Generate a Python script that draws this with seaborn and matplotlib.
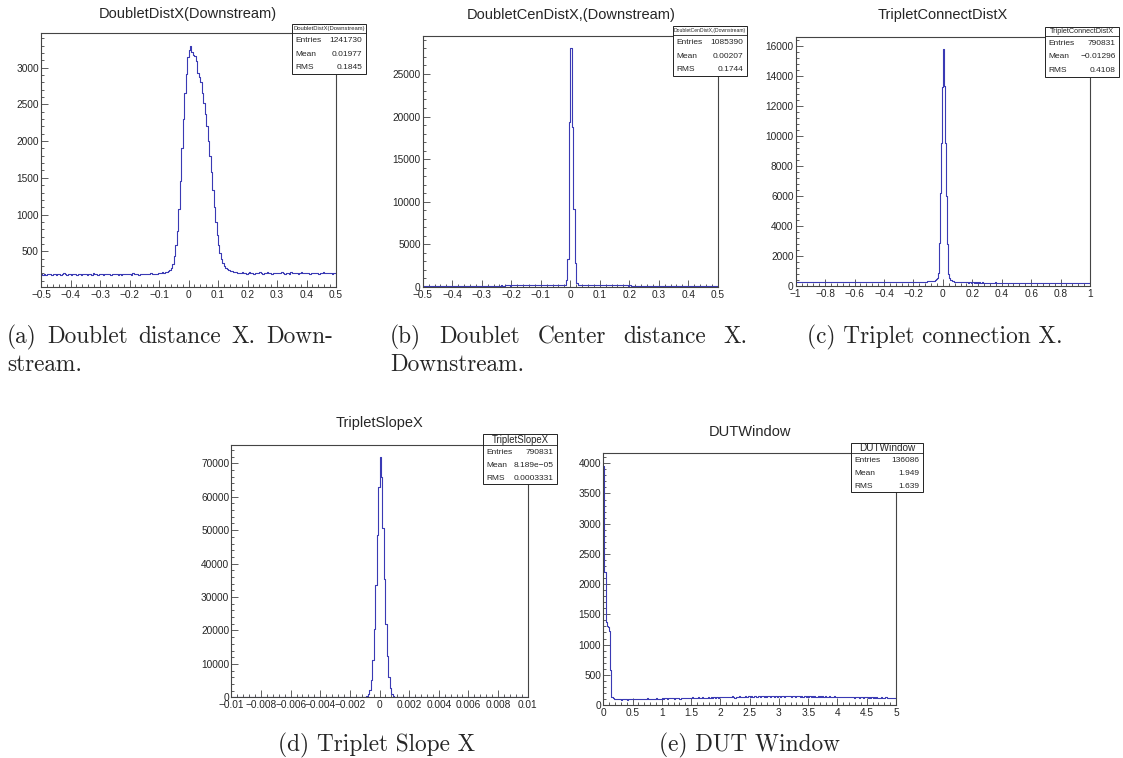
import numpy as np
import pandas as pd
import matplotlib
matplotlib.use("Agg")
import matplotlib.pyplot as plt
import seaborn as sns
from matplotlib.patches import Rectangle
from matplotlib.lines import Line2D
from matplotlib.ticker import MultipleLocator, FuncFormatter

sns.set_style("ticks")
plt.rcParams['font.family'] = ['Liberation Sans', 'DejaVu Sans']

W, H = 1123, 758

# ---- bin counts ----
# (a) DoubletDistX, 200 bins on [-0.5, 0.5]
a_left = [188, 182, 191, 179, 186, 195, 183, 177, 190, 186,
          181, 193, 187, 176, 184, 197, 189, 180, 185, 192,
          178, 186, 194, 183, 175, 188, 190, 181, 196, 184,
          187, 179, 191, 186, 182, 199, 185, 188, 180, 193,
          184, 190, 177, 186, 195, 183, 189, 181, 192, 187,
          185, 196, 182, 188, 179, 191, 186, 194, 183, 190,
          188, 181, 197, 185, 192, 186, 180, 193, 189, 184,
          196, 187, 191, 185, 199, 190, 188, 195, 192, 200]
a_peak = [205, 198, 210, 204, 214, 212, 226, 242, 272, 330,
          430, 580, 780, 1080, 1450, 1900, 2300, 2650, 2920, 3150,
          3240, 3290, 3210, 3180, 3160, 3090, 2930, 2880, 2800, 2650,
          2520, 2370, 2200, 2000, 1800, 1580, 1340, 1100, 900, 720,
          580, 470, 390, 335, 300, 272, 255, 242, 232, 225]
a_right = [218, 210, 214, 205, 209, 198, 212, 203, 207, 196,
           204, 211, 199, 206, 193, 208, 202, 197, 210, 201,
           195, 207, 203, 212, 198, 205, 191, 204, 209, 200,
           197, 206, 202, 213, 199, 194, 208, 203, 196, 210,
           201, 205, 198, 207, 192, 204, 211, 199, 203, 197,
           208, 200, 195, 206, 202, 209, 198, 204, 193, 207,
           201, 210, 197, 205, 199, 203, 208, 196, 204, 202]

# (b) DoubletCenDistX, 200 bins on [-0.5, 0.5]
b_left = [128, 135, 122, 140, 131, 126, 138, 133, 119, 142,
          130, 125, 137, 129, 144, 132, 121, 136, 127, 139,
          134, 141, 128, 146, 133, 137, 130, 149, 138, 143,
          135, 151, 140, 145, 137, 153, 142, 148, 139, 156,
          147, 151, 143, 158, 150, 146, 162, 154, 149, 165,
          168, 172, 165, 179, 174, 170, 183, 177, 181, 175,
          186, 180, 189, 184, 178, 192, 187, 183, 195, 190,
          186, 198, 193, 189, 201, 196, 192, 204, 199, 195,
          207, 202, 198, 210, 205, 212, 208, 215, 211, 219,
          216, 224, 221, 232, 240, 252]
b_peak = [290, 800, 3300, 19400, 28000, 18800, 9100, 2800, 520, 260]
b_right = [236, 228, 221, 217, 213, 209, 214, 206, 210, 203,
           207, 200, 204, 198, 202, 195, 199, 193, 197, 190,
           194, 188, 192, 185, 189, 183, 187, 180, 184, 178,
           182, 176, 179, 173, 177, 171, 175, 169, 172, 166,
           170, 164, 167, 161, 165, 158, 162, 156, 160, 153,
           157, 151, 155, 149, 152, 147, 150, 144, 148, 142,
           146, 140, 143, 138, 141, 136, 139, 133, 137, 131,
           135, 129, 133, 127, 131, 125, 129, 124, 127, 122,
           126, 121, 124, 119, 123, 118, 121, 117, 120, 116,
           119, 115, 118, 114]

# (c) TripletConnectDistX, 300 bins on [-1, 1]
c_left = [262, 248, 255, 241, 259, 250, 266, 244, 253, 258,
          247, 261, 252, 243, 257, 249, 264, 251, 240, 256,
          253, 245, 260, 248, 255, 263, 246, 252, 258, 242,
          257, 250, 265, 247, 254, 249, 261, 244, 256, 252,
          246, 259, 251, 262, 248, 255, 243, 258, 250, 264,
          249, 254, 241, 257, 252, 260, 247, 255, 263, 250,
          245, 258, 253, 248, 261, 251, 256, 244, 259, 254,
          250, 262, 247, 255, 252, 258, 246, 260, 253, 249,
          257, 251, 264, 248, 255, 261, 250, 256, 245, 259,
          253, 266, 251, 258, 262, 249, 255, 260, 252, 257,
          263, 254, 259, 251, 265, 257, 261, 256, 268, 259,
          262, 258, 266, 261, 270, 263, 267, 272, 265, 271,
          268, 274, 270, 277, 273, 280, 276, 283, 279, 286,
          284, 290, 288, 295, 300, 306, 312, 320, 330, 345,
          300, 330, 380, 450, 560]
c_peak = [845, 2840, 6170, 9500, 13270, 15760, 13300, 9500, 6000, 2800, 800]
c_right = [520, 430, 370, 330, 305, 290, 278, 270, 262, 257,
           251, 246, 253, 240, 247, 236, 243, 249, 235, 241,
           232, 245, 238, 229, 242, 234, 227, 240, 231, 236,
           225, 238, 230, 222, 235, 228, 220, 233, 226, 231,
           219, 232, 224, 229, 216, 228, 221, 234, 218, 226,
           222, 214, 230, 219, 225, 211, 223, 217, 228, 213,
           220, 226, 212, 219, 224, 209, 221, 215, 227, 210,
           217, 223, 208, 218, 212, 225, 206, 219, 214, 221,
           205, 216, 211, 222, 203, 215, 209, 220, 202, 213,
           218, 207, 212, 200, 216, 209, 204, 214, 198, 211,
           206, 215, 201, 210, 196, 208, 213, 199, 205, 211,
           194, 207, 202, 212, 197, 204, 209, 193, 206, 200,
           210, 195, 203, 198, 208, 191, 204, 199, 206, 196,
           201, 209, 192, 203, 197, 205, 190, 202, 198, 207,
           194, 201, 196, 203]

# (d) TripletSlopeX, 200 bins on [-0.01, 0.01]
d_left = [0, 1, 0, 0, 2, 0, 1, 0, 0, 1,
          0, 0, 1, 0, 2, 0, 0, 1, 0, 1,
          1, 0, 0, 2, 1, 0, 1, 0, 2, 0,
          1, 2, 0, 1, 0, 2, 1, 1, 0, 2,
          1, 0, 2, 1, 3, 1, 0, 2, 1, 3,
          2, 1, 3, 2, 1, 4, 2, 3, 1, 4,
          3, 2, 5, 3, 4, 6, 3, 5, 7, 6,
          8, 7, 10, 9, 12, 14, 13, 17, 19, 22,
          26, 30, 35, 41, 48, 57, 68, 80, 95, 112]
d_peak = [120, 320, 850, 2300, 5300, 11200, 20500, 33500, 48500, 63000,
          72000, 66000, 50500, 35500, 22000, 12300, 6000, 2700, 1050, 380, 140]
d_right = [65, 52, 43, 36, 30, 26, 22, 19, 16, 14,
           12, 11, 9, 8, 8, 6, 7, 5, 5, 4,
           4, 3, 4, 2, 3, 3, 2, 1, 2, 2,
           1, 2, 1, 0, 1, 2, 0, 1, 1, 0,
           1, 0, 1, 0, 0, 1, 0, 2, 0, 1,
           0, 0, 1, 0, 1, 0, 0, 1, 0, 0,
           1, 0, 0, 0, 1, 0, 0, 1, 0, 0,
           0, 1, 0, 0, 0, 1, 0, 0, 0, 1,
           0, 0, 1, 0, 0, 0, 0, 1, 0]

# (e) DUTWindow, 250 bins on [0, 5]
e_head = [3950, 2200, 1380, 1300, 1290, 1230, 580, 140]
e_tail = [112, 104, 98, 95, 101, 93, 97, 90, 99, 94,
          102, 96, 91, 100, 95, 103, 97, 92, 99, 105,
          96, 101, 94, 98, 106, 100, 95, 103, 99, 108,
          97, 104, 101, 95, 107, 102, 99, 110, 103, 98,
          106, 104,
          112, 106, 115, 109, 103, 117, 111, 108, 114, 120,
          107, 113, 118, 110, 116, 105, 121, 114, 119, 111,
          117, 123, 113, 108, 120, 116, 125, 118, 112, 122,
          119, 126, 115, 121, 128, 117, 124, 120, 114, 127,
          122, 118, 129, 124, 131, 120, 126, 133, 123, 128,
          130, 125, 134, 128, 137, 132, 126, 139, 133, 129,
          141, 135, 122, 131, 138, 134, 143, 128, 136, 140,
          133, 145, 138, 131, 142, 136, 147, 140, 134, 143,
          138, 132, 146, 141, 137, 148, 142, 135, 144, 139,
          150, 143, 137, 146, 141, 149, 138, 145, 140, 152,
          144, 139, 147, 142, 136, 148, 143, 150, 141, 146,
          139, 145, 151, 142, 138, 147, 143, 149, 140, 144,
          137, 146, 141, 135, 143,
          140, 146, 138, 143, 136, 145, 139, 134, 142, 137,
          148, 135, 141, 138, 144, 132, 140, 136, 143, 131,
          139, 134, 142, 129, 137, 133, 140, 128, 135, 131,
          138, 126, 134, 130, 136, 125, 133, 129, 135, 124,
          131, 127, 134, 122, 130, 126, 132, 121, 128, 125,
          130, 119, 127, 123, 129, 118, 126, 122, 128, 117,
          124, 121, 127, 116, 123, 119, 125, 115, 122, 118,
          124, 114, 121, 117, 123]

titles = ["DoubletDistX(Downstream)", "DoubletCenDistX,(Downstream)",
          "TripletConnectDistX", "TripletSlopeX", "DUTWindow"]
stat_names = ["DoubletDistX(Downstream)", "DoubletCenDistX,(Downstream)",
              "TripletConnectDistX", "TripletSlopeX", "DUTWindow"]
stat_entries = ["1241730", "1085390", "790831", "790831", "136086"]
stat_mean = ["0.01977", "0.00207", "\u22120.01296", "8.189e\u221205", "1.949"]
stat_rms = ["0.1845", "0.1744", "0.4108", "0.0003331", "1.639"]
x_ranges = [(-0.5, 0.5), (-0.5, 0.5), (-1, 1), (-0.01, 0.01), (0, 5)]
y_tops = [3474, 29450, 16600, 75480, 4165]
y_bottoms = [12, 0, 0, 0, 0]

LINE = "#3a3ab4"
FRAME = "#444444"

# layout in pixels (left, top, right, bottom)
ax_px = [(41, 33, 336, 287), (422.7, 36, 717.7, 287), (795.7, 36.7, 1090, 286),
         (231.3, 445, 527.7, 697.3), (603.3, 453.3, 896, 705)]
title_px = [(188, 14), (571, 15), (943, 15), (380, 423), (750, 432.5)]
# stat box: x0, y0, x1, y1, header bottom, header font size
box_px = [(292, 24, 366, 74, 33, 4.2), (673, 26, 747, 76, 35, 3.6),
          (1045, 27, 1119, 77, 35.5, 5.2), (483, 434, 557, 484, 445, 6.9),
          (851, 443, 923, 492, 453, 7.2)]
ticks = [(0.1, 0.02, 500, 100), (0.1, 0.02, 5000, 1000), (0.2, 0.04, 2000, 400),
         (0.002, 0.0004, 10000, 2000), (0.5, 0.1, 500, 100)]

counts = [a_left + a_peak + a_right, b_left + b_peak + b_right,
          c_left + c_peak + c_right, d_left + d_peak + d_right, e_head + e_tail]
nbins = [200, 200, 300, 200, 250]
for c, n in zip(counts, nbins):
    assert len(c) == n, (len(c), n)


def fx(px):
    return px / W


def fy(py):
    return 1 - py / H


def tick_fmt(v, pos):
    s = '%g' % (round(v, 10) + 0.0)
    return s.replace('-', '\u2212')


fig = plt.figure(figsize=(W / 100, H / 100), dpi=100)

for i in range(5):
    l, t, r, b = ax_px[i]
    ax = fig.add_axes([fx(l), fy(b), fx(r) - fx(l), fy(t) - fy(b)])
    lo, hi = x_ranges[i]
    n = len(counts[i])
    step = (hi - lo) / n
    df = pd.DataFrame({"x": lo + step * (np.arange(n) + 0.5), "n": counts[i]})
    sns.histplot(data=df, x="x", weights="n", bins=n, binrange=(lo, hi),
                 element="step", fill=False, color=LINE, linewidth=0.8, ax=ax)
    ax.set_xlim(lo, hi)
    ax.set_ylim(y_bottoms[i], y_tops[i])
    ax.set_xlabel("")
    ax.set_ylabel("")
    xm, xn, ym, yn = ticks[i]
    ax.xaxis.set_major_locator(MultipleLocator(xm))
    ax.xaxis.set_minor_locator(MultipleLocator(xn))
    ax.yaxis.set_major_locator(MultipleLocator(ym))
    ax.yaxis.set_minor_locator(MultipleLocator(yn))
    ax.xaxis.set_major_formatter(FuncFormatter(tick_fmt))
    ax.yaxis.set_major_formatter(FuncFormatter(tick_fmt))
    ax.tick_params(which="both", direction="in", top=False, right=False,
                   color=FRAME, width=0.6, labelsize=7.3)
    ax.tick_params(which="major", length=5)
    ax.tick_params(which="minor", length=2.5)
    ax.tick_params(axis="y", pad=1.5)
    ax.tick_params(axis="x", pad=2)
    for sp in ax.spines.values():
        sp.set_color(FRAME)
        sp.set_linewidth(0.8)

    tx, ty = title_px[i]
    fig.text(fx(tx), fy(ty), titles[i], fontsize=10.5, ha="center", va="center")

    # ROOT-like statistics box
    x0, y0, x1, y1, hb, hs = box_px[i]
    fig.add_artist(Rectangle((fx(x0), fy(y1)), fx(x1) - fx(x0), fy(y0) - fy(y1),
                             transform=fig.transFigure, facecolor="white",
                             edgecolor="#222222", lw=0.7, zorder=5))
    fig.add_artist(Line2D([fx(x0), fx(x1)], [fy(hb), fy(hb)], transform=fig.transFigure,
                          color="#222222", lw=0.6, zorder=6))
    fig.text(fx((x0 + x1) / 2), fy((y0 + hb) / 2 + 0.3), stat_names[i], fontsize=hs,
             ha="center", va="center", zorder=7)
    rh = (y1 - hb) / 3
    rows = [("Entries", stat_entries[i]), ("Mean", stat_mean[i]), ("RMS", stat_rms[i])]
    for k, (lab, val) in enumerate(rows):
        yc = hb + (k + 0.55) * rh
        fig.text(fx(x0 + 3.5), fy(yc), lab, fontsize=6, ha="left", va="center", zorder=7)
        fig.text(fx(x1 - 3.5), fy(yc), val, fontsize=6, ha="right", va="center", zorder=7)

# captions (LaTeX-like, justified first lines)
CAP = 16.8
renderer = fig.canvas.get_renderer()


def justified(words, x0, x1, y):
    ts = [fig.text(0, fy(y), w, fontsize=CAP, family="cmr10", va="baseline") for w in words]
    ws = [t.get_window_extent(renderer).width for t in ts]
    gap = (x1 - x0 - sum(ws)) / (len(words) - 1)
    x = x0
    for t, w in zip(ts, ws):
        t.set_x(fx(x))
        x += w + gap


justified(["(a)", "Doublet", "distance", "X.", "Down-"], 7, 333, 343)
fig.text(fx(7), fy(371), "stream.", fontsize=CAP, family="cmr10", va="baseline")
justified(["(b)", "Doublet", "Center", "distance", "X."], 390, 748, 343)
fig.text(fx(390), fy(371), "Downstream.", fontsize=CAP, family="cmr10", va="baseline")
fig.text(fx(935), fy(343), "(c) Triplet connection X.", fontsize=CAP, family="cmr10",
         ha="center", va="baseline")
fig.text(fx(377), fy(751), "(d) Triplet Slope X", fontsize=CAP, family="cmr10",
         ha="center", va="baseline")
fig.text(fx(750), fy(751), "(e) DUT Window", fontsize=CAP, family="cmr10",
         ha="center", va="baseline")

fig.savefig("out.png", dpi=100, facecolor="white")
